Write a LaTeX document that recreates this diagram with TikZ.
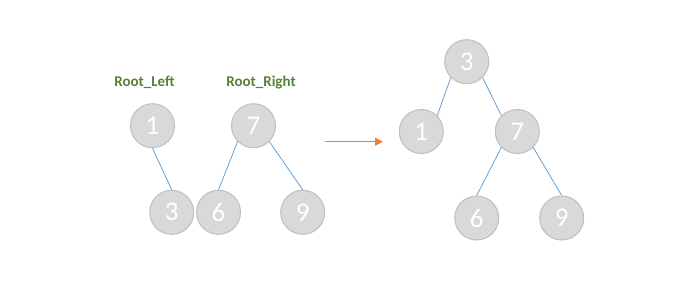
\documentclass[tikz,border=0pt]{standalone}
\usepackage{fontspec}
\setmainfont{Carlito}
\usetikzlibrary{arrows.meta}
\definecolor{nodefill}{RGB}{217,217,217}
\definecolor{nodeline}{RGB}{191,191,191}
\definecolor{edgeblue}{RGB}{91,155,213}
\definecolor{arroworange}{RGB}{237,125,49}
\definecolor{labelgreen}{RGB}{84,130,53}
\tikzset{
  treenode/.style={circle, fill=nodefill, draw=nodeline, line width=1pt, minimum size=44pt, inner sep=0pt, text=white, font=\fontsize{27}{29}\selectfont},
  edge/.style={draw=edgeblue, line width=0.75pt},
  rootlabel/.style={text=labelgreen, font=\fontsize{15}{17}\selectfont\bfseries},
  arr/.style={draw=arroworange, line width=1pt, -{Triangle[length=8pt,width=8pt]}}
}
\begin{document}
\begin{tikzpicture}[x=1pt,y=-1pt]
\useasboundingbox (0,0) rectangle (698,295);
% left side
\node[rootlabel] (rl) at (144.5,82.5) {Root\_Left};
\node[rootlabel] (rr) at (261,82.5) {Root\_Right};
\node[treenode] (l1) at (152.5,125.7) {1};
\node[treenode] (l7) at (253.5,125.7) {7};
\node[treenode] (l3) at (171.7,212.3) {3};
\node[treenode] (l6) at (218.5,212.3) {6};
\node[treenode] (l9) at (302.7,212.3) {9};
\draw[edge] (l1.south) -- (l3.north);
\draw[edge] (l7.225) -- (l6.north);
\draw[edge] (l7.-45) -- (l9.north);
% arrow
\coordinate (a0) at (325,141.7);
\coordinate (a1) at (383,141.7);
\draw[arr] (a0) -- (a1);
% right side
\node[treenode] (r3) at (466.7,61.7) {3};
\node[treenode] (r1) at (421.3,131.5) {1};
\node[treenode] (r7) at (517.3,131.5) {7};
\node[treenode] (r6) at (476.7,218) {6};
\node[treenode] (r9) at (561.7,218) {9};
\draw[edge] (r3.225) -- (r1.45);
\draw[edge] (r3.-45) -- (r7.135);
\draw[edge] (r7.225) -- (r6.north);
\draw[edge] (r7.-45) -- (r9.north);
\end{tikzpicture}
\end{document}
